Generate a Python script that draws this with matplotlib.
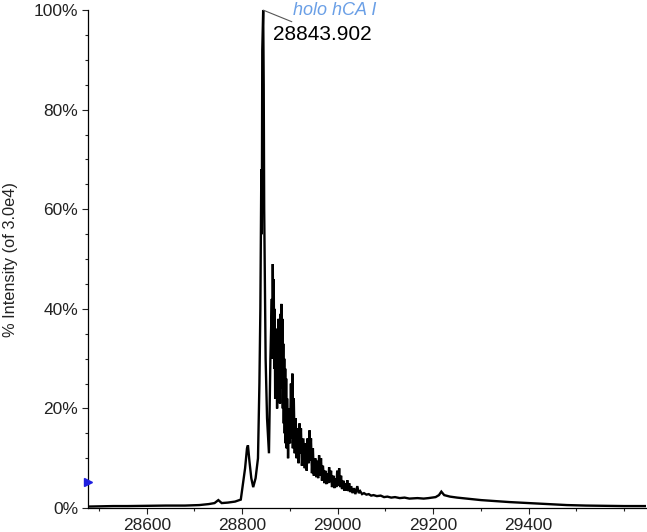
import matplotlib.pyplot as plt
from matplotlib.ticker import MultipleLocator

plt.rcParams['font.family'] = ['Liberation Sans', 'DejaVu Sans']

# deconvoluted spectrum (mass in Da, % intensity)
mass = [28477, 28500, 28530, 28560, 28600, 28640, 28680, 28710, 28730, 28742,
        28750, 28757, 28770, 28785, 28797, 28801, 28806, 28810, 28812, 28815,
        28819, 28823, 28828, 28833, 28836, 28838, 28840, 28841, 28842, 28843.9,
        28845, 28846, 28847, 28849, 28852, 28856, 28859, 28862, 28863, 28864,
        28865, 28866, 28867, 28868, 28869, 28870, 28871, 28872, 28873, 28874,
        28875, 28876, 28877, 28878, 28879, 28880, 28881, 28882, 28883, 28884,
        28885, 28886, 28887, 28888, 28889, 28890, 28891, 28892, 28893, 28894,
        28896, 28898, 28900, 28902, 28904, 28905, 28906, 28908, 28910, 28912,
        28914, 28916, 28918, 28920, 28921, 28923, 28925, 28928, 28931, 28933,
        28935, 28937, 28939, 28941, 28942, 28944, 28946, 28948, 28950, 28953,
        28955, 28957, 28959, 28961, 28963, 28965, 28967, 28969, 28972, 28974,
        28976, 28978, 28980, 28982, 28984, 28986, 28988, 28991, 28993, 28995,
        28997, 28999, 29001, 29003, 29005, 29007, 29009, 29012, 29014, 29016,
        29018, 29020, 29022, 29024, 29026, 29028, 29031, 29034, 29037, 29041,
        29044, 29047, 29051, 29055, 29060, 29065, 29070, 29075, 29082, 29090,
        29097, 29104, 29112, 29120, 29130, 29140, 29150, 29167, 29180, 29190,
        29205, 29212, 29217, 29223, 29235, 29250, 29270, 29300, 29330, 29360,
        29400, 29440, 29480, 29520, 29560, 29600, 29645]
intensity = [0.3, 0.35, 0.4, 0.4, 0.45, 0.5, 0.5, 0.6, 0.8, 1.0,
             1.6, 1.0, 1.1, 1.3, 1.7, 4.5, 8.0, 12.0, 12.6, 9.5,
             6.0, 4.2, 6.0, 10.0, 25.0, 40.0, 68.0, 55.0, 92.0, 100.0,
             85.0, 60.0, 50.0, 30.0, 18.0, 11.0, 30.0, 42.0, 30.0, 49.0,
             35.0, 46.0, 28.0, 40.0, 22.0, 36.0, 25.0, 34.0, 20.0, 36.0,
             24.0, 38.0, 23.0, 35.0, 21.0, 39.0, 26.0, 41.0, 24.0, 38.0,
             20.0, 33.0, 17.0, 30.0, 15.0, 28.0, 13.0, 26.0, 12.0, 22.0,
             10.0, 20.0, 13.0, 25.0, 14.0, 27.0, 12.0, 22.0, 11.0, 18.0,
             10.0, 16.0, 9.0, 17.0, 11.0, 16.0, 8.5, 14.0, 8.0, 13.0,
             7.5, 14.0, 9.0, 15.6, 9.5, 14.0, 7.0, 12.0, 6.5, 10.0,
             6.2, 9.5, 6.0, 10.6, 6.5, 10.0, 5.5, 8.5, 5.0, 7.5,
             4.8, 7.0, 5.0, 8.2, 5.2, 7.5, 4.2, 6.5, 4.0, 6.0,
             4.2, 7.5, 4.5, 8.0, 4.2, 6.5, 3.8, 5.5, 3.5, 5.0,
             3.5, 5.6, 3.4, 5.0, 3.2, 4.4, 3.0, 4.0, 2.8, 4.4,
             3.0, 3.4, 2.8, 3.0, 2.7, 2.8, 2.5, 2.6, 2.4, 2.5,
             2.2, 2.3, 2.1, 2.2, 2.0, 2.1, 1.9, 2.0, 1.9, 2.0,
             2.2, 2.6, 3.3, 2.6, 2.3, 2.1, 1.9, 1.6, 1.4, 1.2,
             1.0, 0.8, 0.6, 0.5, 0.45, 0.4, 0.4]

peak_mass = 28843.902
peak_label = '28843.902'
species = 'holo hCA I'
ylabel = '% Intensity (of 3.0e4)'
threshold = 5.2
ytick_vals = [0, 20, 40, 60, 80, 100]
xtick_vals = [28600, 28800, 29000, 29200, 29400]

fig = plt.figure(figsize=(6.47, 5.32), dpi=100)
ax = fig.add_axes([0.136, 0.045, 0.862, 0.936])

ax.plot(mass, intensity, color='black', linewidth=1.7, solid_joinstyle='miter')

ax.set_xlim(28477, 29645)
ax.set_ylim(0, 100)

ax.set_yticks(ytick_vals)
ax.set_yticklabels([f'{v}%' for v in ytick_vals])
ax.yaxis.set_minor_locator(MultipleLocator(5))
ax.set_xticks(xtick_vals)
ax.set_xticklabels([str(v) for v in xtick_vals])
ax.xaxis.set_minor_locator(MultipleLocator(100))

ax.tick_params(axis='both', which='major', labelsize=12.5, length=4, width=0.8,
               colors='#222222', pad=3)
ax.tick_params(axis='both', which='minor', length=2.5, width=0.8, colors='#222222')

for side in ['top', 'right']:
    ax.spines[side].set_visible(False)
for side in ['left', 'bottom']:
    ax.spines[side].set_linewidth(0.9)

ax.set_ylabel(ylabel, fontsize=11.8, color='#222222')
ax.yaxis.set_label_coords(-0.125, 0.5)

# threshold marker on the y axis
ax.plot([28477], [threshold], marker='>', markersize=6, color='#1f1fe0',
        clip_on=False, zorder=5)

# peak annotation
ax.annotate(peak_label, xy=(peak_mass, 100), xytext=(peak_mass + 20, 95.2),
            fontsize=15, color='black', ha='left', va='center',
            arrowprops=dict(arrowstyle='-', color='#555555', linewidth=0.8,
                            shrinkA=0, shrinkB=0),
            annotation_clip=False)
ax.text(peak_mass + 62, 99.9, species, fontsize=13, style='italic',
        color='#6a9fe6', ha='left', va='center')

fig.savefig('out.png', dpi=100)
